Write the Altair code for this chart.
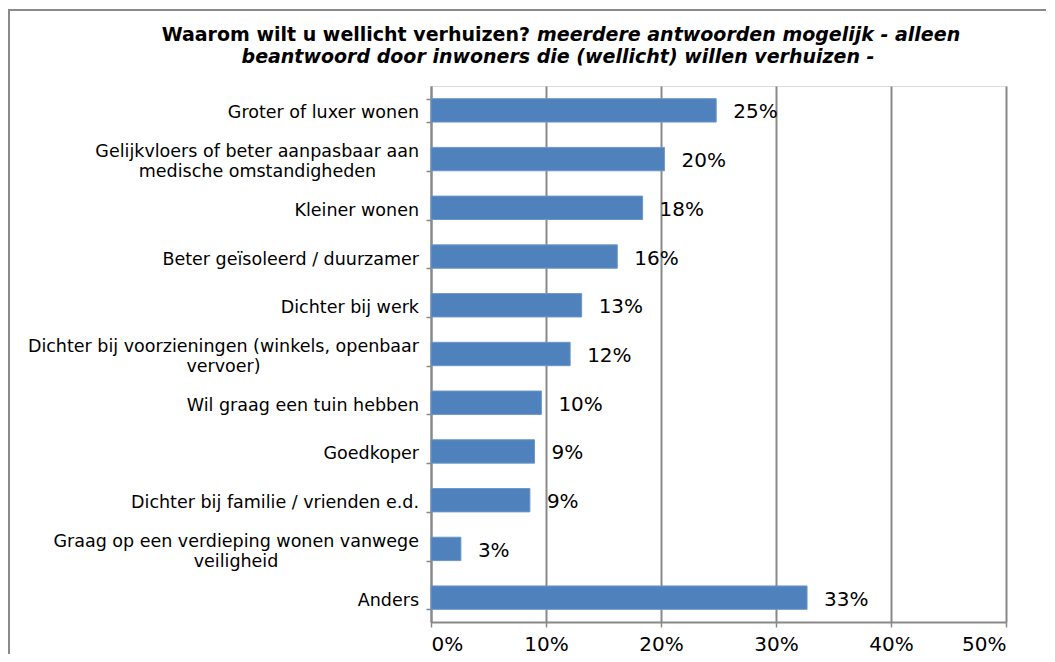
import altair as alt
import pandas as pd

categories = [
    "Groter of luxer wonen",
    "Gelijkvloers of beter aanpasbaar aan|medische omstandigheden",
    "Kleiner wonen",
    "Beter geïsoleerd / duurzamer",
    "Dichter bij werk",
    "Dichter bij voorzieningen (winkels, openbaar|vervoer)",
    "Wil graag een tuin hebben",
    "Goedkoper",
    "Dichter bij familie / vrienden e.d.",
    "Graag op een verdieping wonen vanwege|veiligheid",
    "Anders",
]
values = [0.248, 0.203, 0.184, 0.162, 0.131, 0.121, 0.096, 0.090, 0.086, 0.026, 0.327]
x_ticks = [0, 0.1, 0.2, 0.3, 0.4, 0.5]

title_part1 = "Waarom wilt u wellicht verhuizen?"
title_part2 = "meerdere antwoorden mogelijk - alleen"
title_line2 = "beantwoord door inwoners die (wellicht) willen verhuizen -"

# ---- styling constants ----
FONT = "DejaVu Sans"
GRID = "#898989"
W, H = 575, 536
PAD_INNER, PAD_OUTER = 0.52, 0.26
LINE_H = 20
LABEL_X = -12          # right edge of the category labels (px from plot left)
LABEL_NUDGE = 3        # small downward nudge of the category labels
# rendered width (px) of the first line of wrapped labels, used to centre line 2 under it
WRAP_LINE1_WIDTH = {
    "Gelijkvloers of beter aanpasbaar aan": 323,
    "Dichter bij voorzieningen (winkels, openbaar": 391,
    "Graag op een verdieping wonen vanwege": 366,
}

step = H / (len(categories) - PAD_INNER + 2 * PAD_OUTER)
half_band = step * (1 - PAD_INNER) / 2

df = pd.DataFrame({"cat": categories, "val": values})
parts = [c.split("|") for c in categories]
df["line1"] = [p[0] for p in parts]
df["line2"] = [p[1] if len(p) > 1 else "" for p in parts]
df["off1"] = [half_band + LABEL_NUDGE - (LINE_H / 2 if len(p) > 1 else 0) for p in parts]
df["off2"] = [half_band + LABEL_NUDGE + LINE_H / 2 for p in parts]
df["x2pos"] = [LABEL_X - WRAP_LINE1_WIDTH.get(p[0], 0) / 2 for p in parts]

y_scale = alt.Scale(paddingInner=PAD_INNER, paddingOuter=PAD_OUTER)

y_enc = alt.Y(
    "cat:N",
    sort=categories,
    title=None,
    scale=y_scale,
    axis=alt.Axis(
        labels=False,
        tickBand="extent",
        tickSize=5,
        tickColor=GRID,
        tickWidth=1.5,
        domainColor=GRID,
        domainWidth=2,
        grid=False,
    ),
)

x_enc = alt.X(
    "val:Q",
    title=None,
    scale=alt.Scale(domain=[0, 0.5], nice=False),
    axis=alt.Axis(
        values=x_ticks,
        format=".0%",
        labelFont=FONT,
        labelFontSize=20,
        labelColor="black",
        labelPadding=7,
        tickSize=5,
        tickColor=GRID,
        tickWidth=1.5,
        domainColor=GRID,
        domainWidth=2,
        grid=True,
        gridColor=GRID,
        gridWidth=2,
    ),
)

base = alt.Chart(df)

bars = base.mark_bar(color="#4F81BD", stroke="#6E97CC", strokeWidth=1).encode(
    x=x_enc, y=y_enc
)

labels = base.mark_text(
    align="left", baseline="middle", dx=17, dy=2, font=FONT, fontSize=20, color="black"
).encode(
    x=alt.X("val:Q"),
    y=alt.Y("cat:N", sort=categories),
    text=alt.Text("val:Q", format=".0%"),
)

ylab1 = base.mark_text(
    align="right", baseline="middle", font=FONT, fontSize=17.5, color="black"
).encode(
    x=alt.value(LABEL_X),
    y=alt.Y("cat:N", sort=categories),
    yOffset=alt.YOffset("off1:Q", scale=None),
    text="line1:N",
)

ylab2 = base.mark_text(
    align="center", baseline="middle", font=FONT, fontSize=17.5, color="black"
).encode(
    x=alt.X("x2pos:Q", scale=None),
    y=alt.Y("cat:N", sort=categories),
    yOffset=alt.YOffset("off2:Q", scale=None),
    text="line2:N",
)

one = alt.Data(values=[{"a": 1}])

t1 = alt.Chart(one).mark_text(
    text=title_part1, align="right", baseline="alphabetic",
    font=FONT, fontSize=19, fontWeight="bold", color="black",
).encode(x=alt.value(99), y=alt.value(-45))

t2 = alt.Chart(one).mark_text(
    text=title_part2, align="left", baseline="alphabetic",
    font=FONT, fontSize=19, fontWeight="bold", fontStyle="italic", color="black",
).encode(x=alt.value(106), y=alt.value(-45))

t3 = alt.Chart(one).mark_text(
    text=title_line2, align="center", baseline="alphabetic",
    font=FONT, fontSize=19, fontWeight="bold", fontStyle="italic", color="black",
).encode(x=alt.value(127), y=alt.value(-23))

frame = alt.Chart(one).mark_rect(
    filled=False, stroke="#8a8a8a", strokeWidth=2
).encode(
    x=alt.value(-422), x2=alt.value(800),
    y=alt.value(-76), y2=alt.value(800),
)

chart = (
    alt.layer(frame, bars, labels, ylab1, ylab2, t1, t2, t3)
    .properties(
        width=W,
        height=H,
        padding={"left": 423, "top": 78, "right": 40, "bottom": 32},
        autosize=alt.AutoSizeParams(type="none"),
    )
    .configure_view(stroke=None)
    .configure(background="white")
)

chart.save("out.html", embed_options={"renderer": "svg", "actions": False})
